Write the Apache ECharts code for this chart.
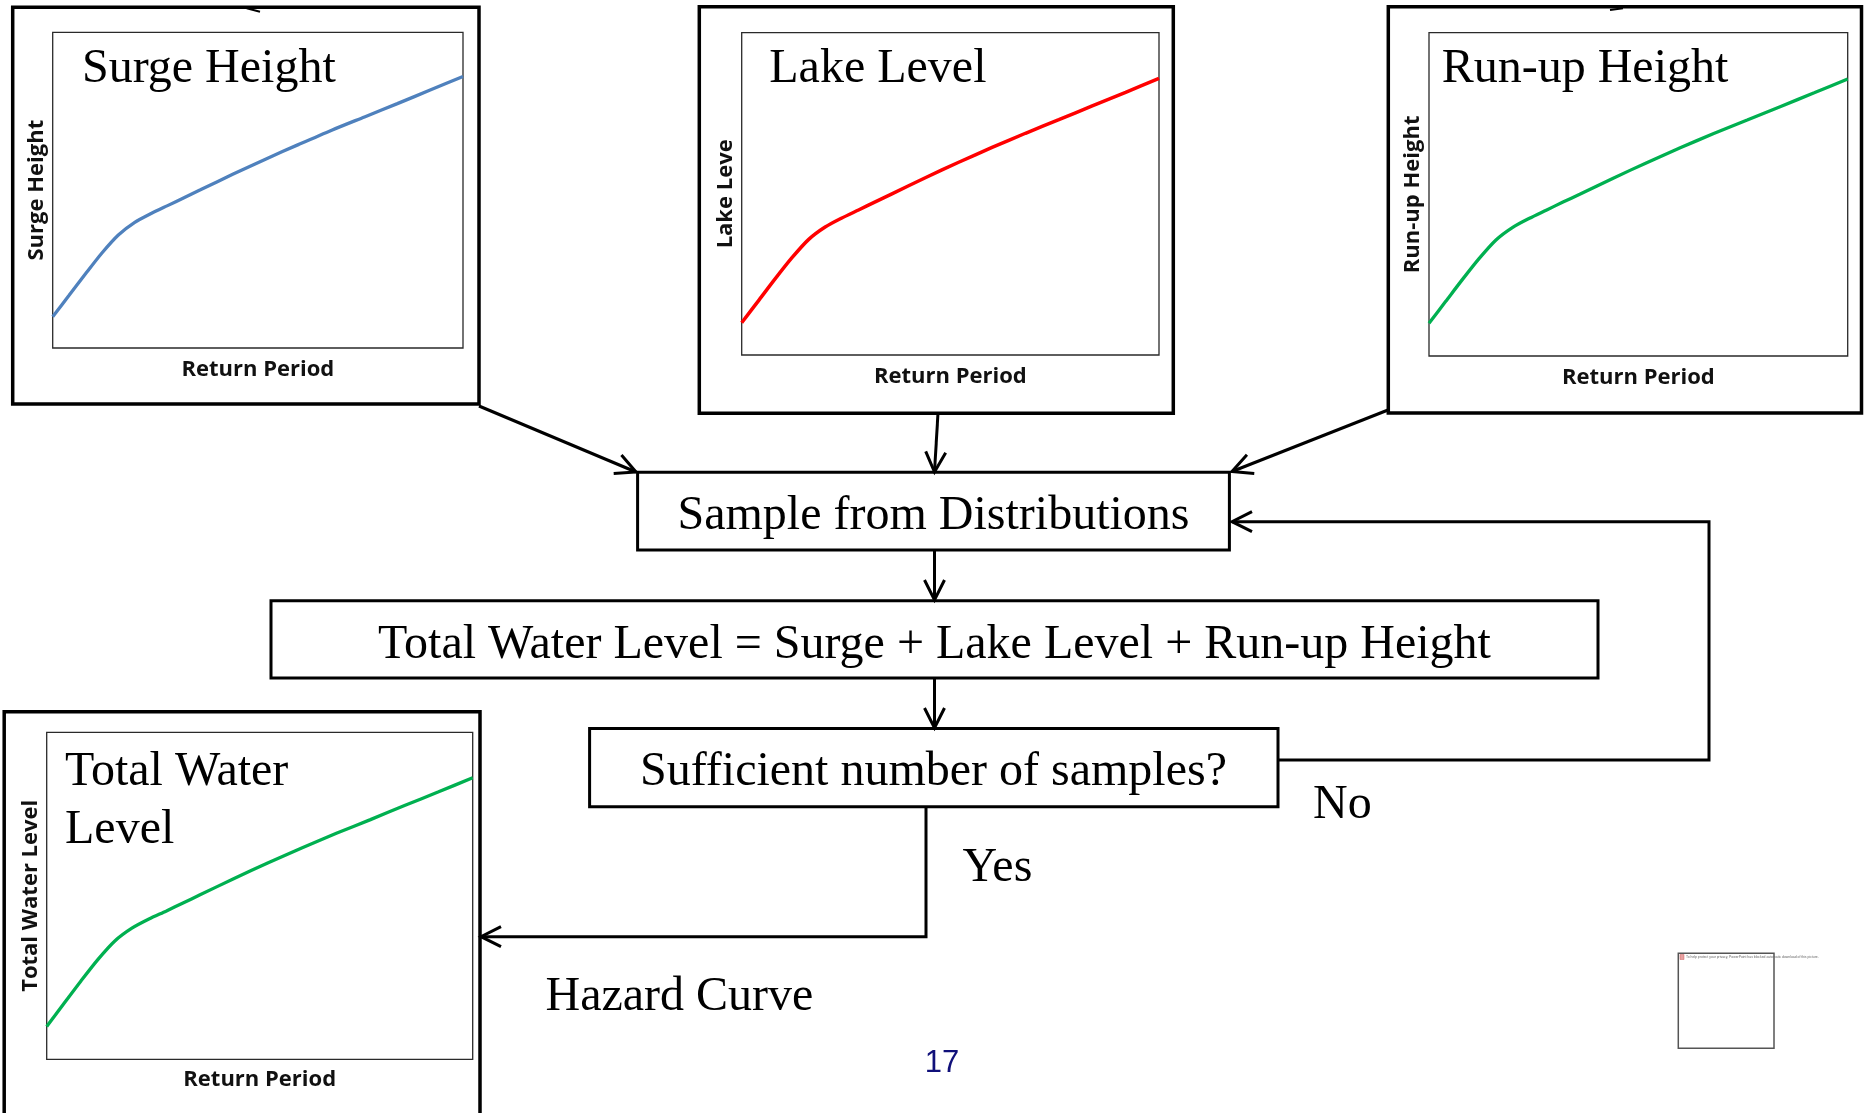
<!DOCTYPE html>
<html>
<head>
<meta charset="utf-8">
<script src="https://cdn.jsdelivr.net/npm/echarts@6/dist/echarts.min.js"></script>
<style>
html,body{margin:0;padding:0;background:#fff;}
#chart{width:1864px;height:1113px;}
</style>
</head>
<body>
<div id="chart"></div>
<script>
// ---- data ----
const returnPeriod = [0, 4, 8, 12, 16, 20, 24, 28, 32, 36, 44, 52, 60, 68, 76, 84, 92, 100];
const surgeHeight = [9.9, 16.7, 23.5, 30.1, 35.8, 39.8, 42.6, 45.1, 47.6, 50.1, 55.1, 59.9, 64.5, 69.0, 73.2, 77.4, 81.7, 86.0];
const lakeLevel = [10.0, 16.8, 23.6, 30.1, 35.8, 39.7, 42.5, 45.0, 47.5, 50.0, 55.0, 59.8, 64.4, 68.8, 73.0, 77.3, 81.5, 85.8];
const runupHeight = [10.1, 16.9, 23.7, 30.2, 35.9, 39.8, 42.6, 45.1, 47.6, 50.0, 55.0, 59.8, 64.4, 68.8, 73.0, 77.2, 81.4, 85.7];
const totalWaterLevel = [10.0, 17.0, 23.9, 30.5, 36.2, 40.1, 42.9, 45.3, 47.8, 50.3, 55.3, 60.1, 64.7, 69.1, 73.3, 77.6, 81.8, 86.1];
const panelTitles = ['Surge Height', 'Lake Level', 'Run-up Height', 'Total Water\nLevel'];
const yAxisNames = ['Surge Height', 'Lake Leve', 'Run-up Height', 'Total Water Level'];
const xAxisName = 'Return Period';
const flowSteps = ['Sample from Distributions', 'Total Water Level = Surge + Lake Level + Run-up Height', 'Sufficient number of samples?'];
const branchLabels = ['No', 'Yes', 'Hazard Curve'];
const pageNumber = '17';
const placeholderText = 'To help protect your privacy, PowerPoint has blocked automatic download of this picture.';

// ---- layout ----
const panels = [
  {grid: {left: 52.7, top: 32.3, width: 410.3, height: 315.7}, values: surgeHeight, color: '#4f81bd', width: 3.3,
   title: {x: 82, y: 69.3}, xGap: 10.5, yGap: 4.7},
  {grid: {left: 741.7, top: 32.7, width: 417.3, height: 322.3}, values: lakeLevel, color: '#ff0000', width: 3.5,
   title: {x: 769.3, y: 69.3}, xGap: 11, yGap: 5},
  {grid: {left: 1429, top: 32.7, width: 418.7, height: 323.3}, values: runupHeight, color: '#00b050', width: 3.3,
   title: {x: 1441.7, y: 69.3}, xGap: 11, yGap: 5},
  {grid: {left: 46.7, top: 732.3, width: 426, height: 327}, values: totalWaterLevel, color: '#00b050', width: 3.3,
   title: {x: 65, y: 743.9}, xGap: 9, yGap: 5}
];

const nameStyle = {fontFamily: '"Open Sans"', fontWeight: 700, fontSize: 22, color: '#111'};
const serif = '"Liberation Serif", "Times New Roman", serif';

const grids = [], xAxes = [], yAxes = [], series = [];
panels.forEach((p, i) => {
  grids.push(Object.assign({show: true, borderColor: '#2a2a2a', borderWidth: 1.3, backgroundColor: 'transparent'}, p.grid));
  xAxes.push({
    gridIndex: i, type: 'value', min: 0, max: 100,
    axisLine: {show: false}, axisTick: {show: false}, axisLabel: {show: false}, splitLine: {show: false},
    name: xAxisName, nameLocation: 'middle', nameGap: p.xGap, nameTextStyle: nameStyle
  });
  yAxes.push({
    gridIndex: i, type: 'value', min: 0, max: 100,
    axisLine: {show: false}, axisTick: {show: false}, axisLabel: {show: false}, splitLine: {show: false},
    name: yAxisNames[i], nameLocation: 'middle', nameGap: p.yGap, nameTextStyle: nameStyle
  });
  series.push({
    type: 'line', xAxisIndex: i, yAxisIndex: i, smooth: 0.25, symbol: 'none',
    lineStyle: {color: p.color, width: p.width},
    data: returnPeriod.map((x, k) => [x, p.values[k]]),
    silent: true, animation: false
  });
});

// ---- diagram graphics ----
const g = [];
function rect(x1, y1, x2, y2, lw, stroke) {
  g.push({type: 'rect', shape: {x: x1, y: y1, width: x2 - x1, height: y2 - y1},
          style: {fill: 'none', stroke: stroke || '#000', lineWidth: lw}, z: 10});
}
function text(str, x, y, font, opts) {
  const st = Object.assign({text: str, x: x, y: y, font: font, fill: '#000',
    textAlign: 'left', align: 'left', textVerticalAlign: 'middle', verticalAlign: 'middle'}, opts || {});
  g.push({type: 'text', style: st, z: 20});
}
function arrow(pts) {
  g.push({type: 'polyline', shape: {points: pts}, style: {stroke: '#000', lineWidth: 3, fill: 'none'}, z: 10});
  const [tx, ty] = pts[pts.length - 1];
  const [px, py] = pts[pts.length - 2];
  const len = Math.hypot(tx - px, ty - py);
  const ux = (tx - px) / len, uy = (ty - py) / len;
  const back = 20, side = 10;
  const a = [tx - ux * back - uy * side, ty - uy * back + ux * side];
  const b = [tx - ux * back + uy * side, ty - uy * back - ux * side];
  g.push({type: 'polyline', shape: {points: [a, [tx, ty], b]},
          style: {stroke: '#000', lineWidth: 3, fill: 'none', lineJoin: 'miter'}, z: 10});
}

// outer frames around panels
rect(12.7, 7.3, 479, 404, 3.5);
rect(699.3, 6.7, 1173.3, 413.3, 3.5);
rect(1388.3, 6.7, 1861.5, 413, 3.5);
rect(4.2, 711.7, 480, 1125, 3.5);

// small stray marks
g.push({type: 'line', shape: {x1: 246.7, y1: 8.3, x2: 260, y2: 11.7}, style: {stroke: '#000', lineWidth: 2}, z: 10});
g.push({type: 'line', shape: {x1: 1610, y1: 10, x2: 1623, y2: 8.3}, style: {stroke: '#000', lineWidth: 2}, z: 10});

// panel titles
panels.forEach((p, i) => {
  if (i < 3) {
    text(panelTitles[i], p.title.x, p.title.y, '48px ' + serif);
  } else {
    text(panelTitles[i], p.title.x, p.title.y, '48px ' + serif,
         {textVerticalAlign: 'top', verticalAlign: 'top', lineHeight: 57.4});
  }
});

// flow boxes
rect(637.6, 472.3, 1229.4, 550, 3);
rect(271, 600.7, 1598, 678, 3);
rect(589.6, 728.5, 1278, 806.8, 3);
text(flowSteps[0], 933.5, 516.5, '48px ' + serif, {textAlign: 'center', align: 'center'});
text(flowSteps[1], 934.5, 645, '48px ' + serif, {textAlign: 'center', align: 'center'});
text(flowSteps[2], 933.5, 772.8, '48px ' + serif, {textAlign: 'center', align: 'center'});

// arrows
arrow([[479, 406], [636, 472]]);
arrow([[938, 413], [934.5, 472]]);
arrow([[1388, 410], [1232, 471.5]]);
arrow([[934.5, 550], [934.5, 600]]);
arrow([[934.5, 678], [934.5, 728]]);
arrow([[1278, 760], [1709, 760], [1709, 521.7], [1232, 521.7]]);
arrow([[926, 807], [926, 936.7], [481, 936.7]]);

// branch labels
text(branchLabels[0], 1313, 805.3, '48px ' + serif);
text(branchLabels[1], 962.5, 868.8, '48px ' + serif);
text(branchLabels[2], 545.5, 997.3, '48px ' + serif);

// page number
text(pageNumber, 942, 1063, '31px "Liberation Sans", Arial, sans-serif', {fill: '#10107a', textAlign: 'center', align: 'center'});

// blocked picture placeholder
rect(1678.3, 953.3, 1774, 1048.3, 1.5, '#555');
g.push({type: 'rect', shape: {x: 1680, y: 954.5, width: 4, height: 5}, style: {fill: '#e8a0a0', stroke: '#c66', lineWidth: 0.5}, z: 20});
text(placeholderText, 1686, 956.7, '3.4px "Liberation Sans", Arial, sans-serif', {fill: '#666'});

const chart = echarts.init(document.getElementById('chart'), null, {renderer: 'canvas'});
chart.setOption({
  animation: false,
  backgroundColor: '#fff',
  grid: grids,
  xAxis: xAxes,
  yAxis: yAxes,
  series: series,
  graphic: {elements: g}
});
</script>
</body>
</html>
